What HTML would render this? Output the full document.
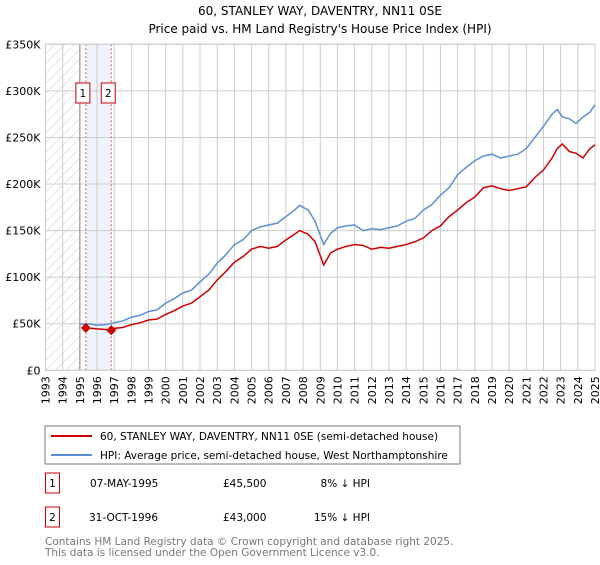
<!DOCTYPE html>
<html><head><meta charset="utf-8"><style>
body{margin:0;background:#fff;font-family:"Liberation Sans","DejaVu Sans",sans-serif;}
svg text{font-family:"DejaVu Sans","Liberation Sans",sans-serif;}
</style></head><body>
<svg id="c" width="600" height="560" xmlns="http://www.w3.org/2000/svg">
<text x="320" y="15" text-anchor="middle" font-size="12">60, STANLEY WAY, DAVENTRY, NN11 0SE</text>
<text x="320" y="33" text-anchor="middle" font-size="12">Price paid vs. HM Land Registry's House Price Index (HPI)</text>
<defs><pattern id="h" width="7" height="7" patternUnits="userSpaceOnUse" patternTransform="rotate(45)"><line x1="0" y1="0" x2="0" y2="7" stroke="#ccc" stroke-width="1"/></pattern></defs>
<g id="grid"></g><g id="marks"></g><g id="axes"></g>
<rect x="45" y="426" width="415" height="38" fill="#fff" stroke="#777"/>
<line x1="51" y1="436" x2="92" y2="436" stroke="#cc0000" stroke-width="2"/>
<text x="100" y="440" font-size="10.5">60, STANLEY WAY, DAVENTRY, NN11 0SE (semi-detached house)</text>
<line x1="51" y1="455" x2="92" y2="455" stroke="#5b8fd4" stroke-width="2"/>
<text x="100" y="459" font-size="10.5">HPI: Average price, semi-detached house, West Northamptonshire</text>
<g font-size="10.5">
<rect x="45.5" y="473" width="14" height="20" fill="#fff" stroke="#cc0000"/>
<text x="52.5" y="487" text-anchor="middle">1</text>
<text x="90" y="487">07-MAY-1995</text>
<text x="223" y="487">£45,500</text>
<text x="370" y="487" text-anchor="end">8% ↓ HPI</text>
<rect x="45.5" y="507" width="14" height="20" fill="#fff" stroke="#cc0000"/>
<text x="52.5" y="521" text-anchor="middle">2</text>
<text x="89" y="521">31-OCT-1996</text>
<text x="223" y="521">£43,000</text>
<text x="370" y="521" text-anchor="end">15% ↓ HPI</text>
</g>
<text x="45" y="545" font-size="10.5" fill="#777">Contains HM Land Registry data © Crown copyright and database right 2025.</text>
<text x="45" y="556" font-size="10.5" fill="#777">This data is licensed under the Open Government Licence v3.0.</text>
</svg>
<script>
const hpiYears=[1995,1995.5,1996,1996.5,1997,1997.5,1998,1998.5,1999,1999.5,2000,2000.5,2001,2001.5,2002,2002.5,2003,2003.5,2004,2004.5,2005,2005.5,2006,2006.5,2007,2007.5,2007.8,2008.3,2008.7,2009.2,2009.6,2010,2010.5,2011,2011.5,2012,2012.5,2013,2013.5,2014,2014.5,2015,2015.5,2016,2016.5,2017,2017.5,2018,2018.5,2019,2019.5,2020,2020.5,2021,2021.5,2022,2022.5,2022.8,2023.1,2023.5,2023.9,2024.3,2024.7,2025];
const hpiValues=[49.5,50,48.5,49,51,53,57,59,63,65,72,77,83,86,95,103,115,124,135,140,150,154,156,158,165,172,177,172,160,135,147,153,155,156,150,152,151,153,155,160,163,172,178,188,196,210,218,225,230,232,228,230,232,238,250,262,275,280,272,270,265,272,277,285];
const priceYears=[1995.35,1995.7,1996,1996.4,1996.83,1997,1997.5,1998,1998.5,1999,1999.5,2000,2000.5,2001,2001.5,2002,2002.5,2003,2003.5,2004,2004.5,2005,2005.5,2006,2006.5,2007,2007.5,2007.8,2008.3,2008.7,2009.2,2009.6,2010,2010.5,2011,2011.5,2012,2012.5,2013,2013.5,2014,2014.5,2015,2015.5,2016,2016.5,2017,2017.5,2018,2018.5,2019,2019.5,2020,2020.5,2021,2021.5,2022,2022.5,2022.8,2023.1,2023.5,2023.9,2024.3,2024.7,2025];
const priceValues=[45.5,45,44.5,44,43,45,46,49,51,54,55,60,64,69,72,79,86,97,106,116,122,130,133,131,133,140,146,150,146,138,113,126,130,133,135,134,130,132,131,133,135,138,142,150,155,165,172,180,186,196,198,195,193,195,197,207,215,228,238,243,235,233,228,238,242];
const saleYears=[1995.35,1996.83];
const saleValues=[45.5,43];
const yTicks=[0,50,100,150,200,250,300,350];
const yTickLabels=['£0','£50K','£100K','£150K','£200K','£250K','£300K','£350K'];
const xTicks=[1993,1994,1995,1996,1997,1998,1999,2000,2001,2002,2003,2004,2005,2006,2007,2008,2009,2010,2011,2012,2013,2014,2015,2016,2017,2018,2019,2020,2021,2022,2023,2024,2025];
const X0=45.5,X1=595,Y0=370.3,Y1=44.3;
const xs=v=>X0+(v-1993)/32*(X1-X0);
const ys=v=>Y0-(v/350)*(Y0-Y1);
const NS='http://www.w3.org/2000/svg';
function mk(p,t,a){const e=document.createElementNS(NS,t);for(const k in a)e.setAttribute(k,a[k]);p.appendChild(e);return e;}
const g=document.getElementById('grid'),m=document.getElementById('marks'),ax=document.getElementById('axes');
let r=mk(g,'rect',{x:X0,y:Y1,width:xs(1995)-X0,height:Y0-Y1,fill:'url(#h)'});


r=mk(g,'rect',{x:xs(saleYears[0]),y:Y1,width:xs(saleYears[1])-xs(saleYears[0]),height:Y0-Y1,fill:'#eef3fc'});


xTicks.forEach(t=>{const l=mk(g,'line',{x1:xs(t),x2:xs(t),y1:Y1,y2:Y0,stroke:'#ccc'});


const tx=mk(ax,'text',{x:0,y:0,'font-size':11,'text-anchor':'end',transform:`translate(${xs(t)+4},${Y0+6}) rotate(-90)`});tx.textContent=t;

});
yTicks.forEach((t,i)=>{const l=mk(g,'line',{x1:X0,x2:X1,y1:ys(t),y2:ys(t),stroke:'#ccc'});


const tx=mk(ax,'text',{x:X0-5,y:ys(t)+4,'font-size':11,'text-anchor':'end'});tx.textContent=yTickLabels[i];

});
let l=mk(g,'line',{x1:xs(1995),x2:xs(1995),y1:Y1,y2:Y0,stroke:'#888'});


saleYears.forEach((s,i)=>{const d=mk(g,'line',{x1:xs(s),x2:xs(s),y1:Y1,y2:Y0,stroke:'#e06060','stroke-dasharray':'2,2'});


const bx=mk(ax,'rect',{x:xs(s)-10,y:83,width:14,height:20,fill:'#fff',stroke:'#cc0000'});


const bt=mk(ax,'text',{x:xs(s)-3,y:97,'font-size':10.5,'text-anchor':'middle'});bt.textContent=String(i+1);

});
const pb=mk(g,'rect',{x:X0,y:Y1,width:X1-X0,height:Y0-Y1,fill:'none',stroke:'#ccc'});


const hp=mk(m,'polyline',{points:hpiYears.map((y,i)=>xs(y)+','+ys(hpiValues[i])).join(' '),fill:'none',stroke:'#5b8fd4','stroke-width':1.5});


const pp=mk(m,'polyline',{points:priceYears.map((y,i)=>xs(y)+','+ys(priceValues[i])).join(' '),fill:'none',stroke:'#cc0000','stroke-width':1.5});


saleYears.forEach((s,i)=>{const cx=xs(s),cy=ys(saleValues[i]);const c=mk(m,'polygon',{points:`${cx},${cy-5} ${cx+5},${cy} ${cx},${cy+5} ${cx-5},${cy}`,fill:'#cc0000'});

});
</script>
</body></html>
